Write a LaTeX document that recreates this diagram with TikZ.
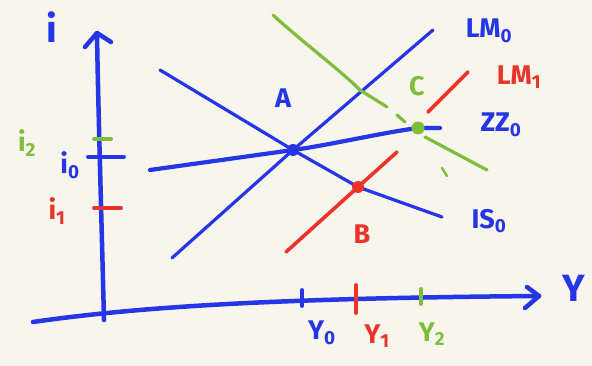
\documentclass[tikz,border=0pt]{standalone}
\usepackage{fontspec}
\setmainfont{Fira Sans}
\usetikzlibrary{arrows.meta}
\definecolor{bg}{HTML}{F7F5EC}
\definecolor{pb}{HTML}{2436E6}
\definecolor{pr}{HTML}{EA3329}
\definecolor{pg}{HTML}{7EBE3C}
\tikzset{
  pen/.style={line cap=round,line join=round},
  axis/.style={pen,pb,line width=4.5pt},
  bline/.style={pen,pb,line width=3.2pt},
  rline/.style={pen,pr,line width=3.6pt},
  gline/.style={pen,pg,line width=3.2pt},
  tick/.style={pen,line width=3.8pt},
  lab/.style={font=\bfseries\fontsize{27}{29}\selectfont,inner sep=0pt},
  biglab/.style={font=\bfseries\fontsize{38}{40}\selectfont,inner sep=0pt},
  dotn/.style={circle,inner sep=0pt,minimum size=12pt,fill}
}
\begin{document}
\begin{tikzpicture}[x=1pt,y=-1pt]
\fill[bg] (0,0) rectangle (592,366);
\useasboundingbox (0,0) rectangle (592,366);
% axes
\coordinate (yb) at (104,320);
\coordinate (yt) at (97,33);
\coordinate (xl) at (33,322);
\coordinate (xr) at (539,296);
\draw[axis] (yb) .. controls (101,200) and (98,100) .. (yt);
\draw[axis] (85,47) -- (yt) -- (111,42);
\draw[axis] (xl) .. controls (150,305) and (300,298) .. (xr);
\draw[axis] (527,287) -- (xr) -- (525,308);
% y ticks
\draw[tick,pg] (94,139) -- (111,139);
\draw[tick,pb] (88,157) -- (124,157);
\draw[tick,pr] (94,208) -- (121,208);
% x ticks
\draw[tick,pb] (302,290) -- (302,306);
\draw[tick,pr] (356,285) -- (356,313);
\draw[tick,pg] (421,289) -- (421,304);
% points
\coordinate (A) at (293,150);
\coordinate (B) at (358,187);
\coordinate (C) at (418,128);
% LM0
\coordinate (lm0a) at (172,258);
\coordinate (lm0b) at (433,30);
\draw[bline] (lm0a) -- (A) -- (lm0b);
% IS0
\coordinate (is0a) at (160,70);
\coordinate (is0b) at (442,217);
\draw[bline] (is0a) -- (A) -- (B) -- (is0b);
% ZZ0
\coordinate (zza) at (150,170);
\coordinate (zzb) at (440,128);
\draw[bline,line width=4.2pt] (zza) -- (A) .. controls (330,145) and (380,133) .. (C) -- (zzb);
% green line
\coordinate (g1) at (273,15);
\coordinate (g2) at (387,107);
\coordinate (g3) at (425,137);
\coordinate (g4) at (487,170);
\draw[gline] (g1) .. controls (300,40) and (340,70) .. (360,90) -- (g2);
\draw[gline] (397,115) -- (405,122);
\draw[gline] (g3) -- (g4);
\draw[gline,line width=2.4pt] (442,168) -- (447,176);
% red LM1
\coordinate (r1) at (286,252);
\coordinate (r2) at (397,152);
\draw[rline] (r1) -- (B) -- (r2);
\coordinate (r3) at (428,112);
\coordinate (r4) at (468,72);
\draw[rline] (r3) -- (r4);
% dots
\node[dotn,pb] (dA) at (A) {};
\node[dotn,pr] (dB) at (B) {};
\node[dotn,pg,minimum size=13pt] (dC) at (C) {};
% labels
\node[biglab,pb] (li) at (52,27) {i};
\node[biglab,pb] (lY) at (574,288) {Y};
\node[lab,pg] (li2) at (27,143) {i\textsubscript{2}};
\node[lab,pb] (li0) at (70,165) {i\textsubscript{0}};
\node[lab,pr] (li1) at (57,211) {i\textsubscript{1}};
\node[lab,pb] (lY0) at (322,333) {Y\textsubscript{0}};
\node[lab,pr] (lY1) at (377,336) {Y\textsubscript{1}};
\node[lab,pg] (lY2) at (432,334) {Y\textsubscript{2}};
\node[lab,pb] (lA) at (283,98) {A};
\node[lab,pr] (lB) at (362,234) {B};
\node[lab,pg] (lC) at (417,86) {C};
\node[lab,pb] (lLM0) at (489,31) {LM\textsubscript{0}};
\node[lab,pr] (lLM1) at (519,77) {LM\textsubscript{1}};
\node[lab,pb] (lZZ) at (501,125) {ZZ\textsubscript{0}};
\node[lab,pb] (lIS) at (489,221) {IS\textsubscript{0}};
\end{tikzpicture}
\end{document}
